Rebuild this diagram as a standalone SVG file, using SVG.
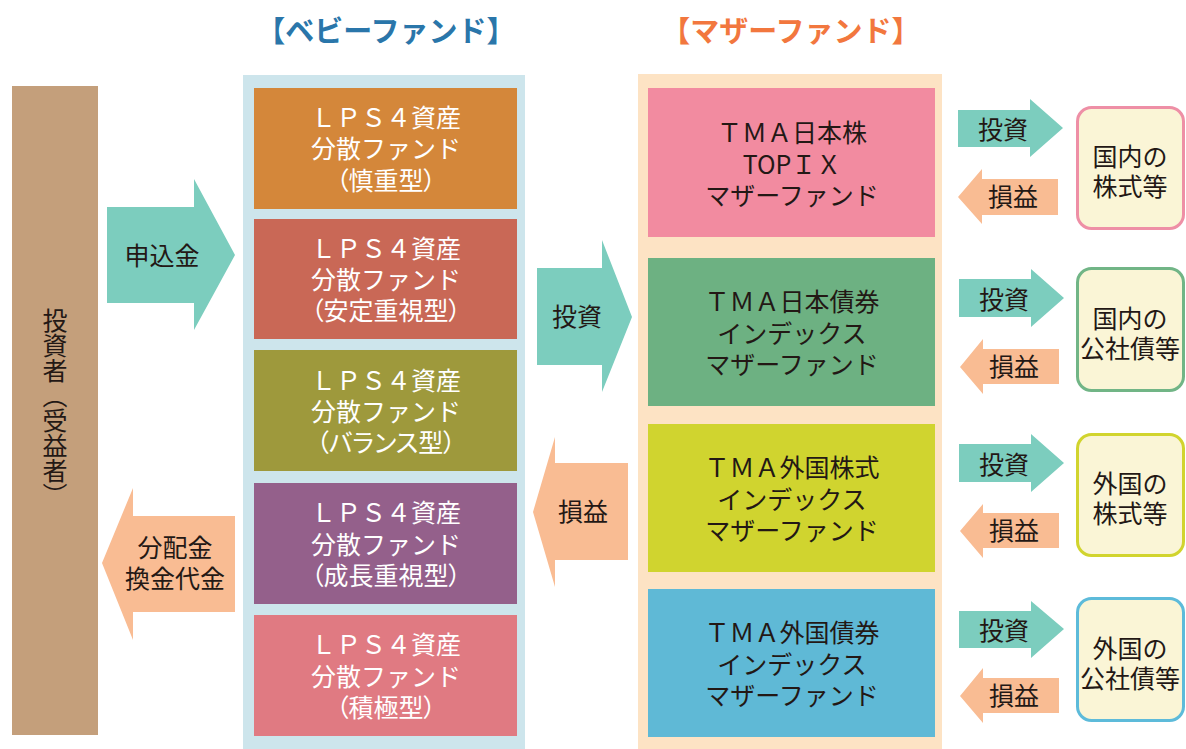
<svg xmlns="http://www.w3.org/2000/svg" width="1186" height="749" viewBox="0 0 1186 749">
<style>
text{font-family:"Noto Sans CJK JP","Noto Sans",sans-serif;font-size:25px;font-weight:400;text-anchor:middle}
.w{fill:#ffffff}
.d{fill:#231815}
.palt{font-feature-settings:"palt"}
.h{font-size:29px;font-weight:bold}
.teal{fill:#7ccdbe}
.sal{fill:#f9bc93}
.rb{fill:#faf5d6;stroke-width:3}
</style>
<rect width="1186" height="749" fill="#ffffff"/>

<text class="h" x="386" y="42" fill="#2a76aa">【ベビーファンド】</text>
<text class="h" x="791" y="42" fill="#f2773e">【マザーファンド】</text>

<g id="investor">
<rect x="12" y="86" width="86" height="649" fill="#c49f7b"/>
<text class="d" x="55" y="408" style="writing-mode:vertical-rl">投資者（受益者）</text>
</g>

<g id="baby-fund">
<rect x="243" y="75" width="282" height="674" fill="#cde5ec"/>
<g id="baby1">
<rect x="254" y="88" width="263" height="121" fill="#d4873a"/>
<text class="w" x="386" y="127">ＬＰＳ４資産<tspan x="386" dy="31">分散ファンド</tspan><tspan class="palt" x="386" dy="32">（慎重型）</tspan></text>
</g>
<g id="baby2">
<rect x="254" y="219" width="263" height="120" fill="#c96856"/>
<text class="w" x="386" y="258">ＬＰＳ４資産<tspan x="386" dy="31">分散ファンド</tspan><tspan class="palt" x="386" dy="31">（安定重視型）</tspan></text>
</g>
<g id="baby3">
<rect x="254" y="350" width="263" height="121" fill="#9e993c"/>
<text class="w" x="386" y="390">ＬＰＳ４資産<tspan x="386" dy="31">分散ファンド</tspan><tspan class="palt" x="386" dy="31">（バランス型）</tspan></text>
</g>
<g id="baby4">
<rect x="254" y="483" width="263" height="121" fill="#94608b"/>
<text class="w" x="386" y="522">ＬＰＳ４資産<tspan x="386" dy="32">分散ファンド</tspan><tspan class="palt" x="386" dy="31">（成長重視型）</tspan></text>
</g>
<g id="baby5">
<rect x="254" y="615" width="263" height="121" fill="#e07a82"/>
<text class="w" x="386" y="654">ＬＰＳ４資産<tspan x="386" dy="32">分散ファンド</tspan><tspan class="palt" x="386" dy="31">（積極型）</tspan></text>
</g>
</g>

<g id="mother-fund">
<rect x="638" y="74" width="304" height="675" fill="#fde3c4"/>
<g id="mother1">
<rect x="648" y="88" width="287" height="149" fill="#f28ba0"/>
<text class="d" x="792" y="142">ＴＭＡ日本株<tspan x="792" dy="32">TOPＩＸ</tspan><tspan x="792" dy="31">マザーファンド</tspan></text>
</g>
<g id="mother2">
<rect x="648" y="258" width="287" height="148" fill="#6db182"/>
<text class="d" x="792" y="311">ＴＭＡ日本債券<tspan x="792" dy="32">インデックス</tspan><tspan x="792" dy="31">マザーファンド</tspan></text>
</g>
<g id="mother3">
<rect x="648" y="424" width="287" height="148" fill="#d0d42f"/>
<text class="d" x="792" y="477">ＴＭＡ外国株式<tspan x="792" dy="32">インデックス</tspan><tspan x="792" dy="31">マザーファンド</tspan></text>
</g>
<g id="mother4">
<rect x="648" y="589" width="287" height="148" fill="#5fb9d6"/>
<text class="d" x="792" y="642">ＴＭＡ外国債券<tspan x="792" dy="32">インデックス</tspan><tspan x="792" dy="31">マザーファンド</tspan></text>
</g>
</g>

<g id="assets">
<g id="asset1">
<rect class="rb" x="1077.5" y="107.5" width="106" height="121" rx="14" stroke="#ee8fa6"/>
<text class="d" x="1130" y="166">国内の<tspan x="1130" dy="30">株式等</tspan></text>
</g>
<g id="asset2">
<rect class="rb" x="1077.5" y="268.5" width="106" height="122" rx="14" stroke="#71b586"/>
<text class="d" x="1130" y="328">国内の<tspan x="1130" dy="30">公社債等</tspan></text>
</g>
<g id="asset3">
<rect class="rb" x="1077.5" y="434.5" width="106" height="121" rx="14" stroke="#d1d42e"/>
<text class="d" x="1130" y="493">外国の<tspan x="1130" dy="30">株式等</tspan></text>
</g>
<g id="asset4">
<rect class="rb" x="1077.5" y="598.5" width="106" height="122" rx="14" stroke="#5dbbda"/>
<text class="d" x="1130" y="658">外国の<tspan x="1130" dy="30">公社債等</tspan></text>
</g>
</g>

<g id="connectors">
<polygon class="teal" points="107,207 194,207 194,179 235,255 194,330 194,303 107,303"/>
<text class="d" x="162" y="265">申込金</text>
<polygon class="sal" points="235,516 133,516 133,488 102,563 133,640 133,612 235,612"/>
<text class="d" x="175" y="557">分配金<tspan x="175" dy="31">換金代金</tspan></text>

<polygon class="teal" points="537,268 602,268 602,240 632,317 602,392 602,365 537,365"/>
<text class="d" x="577" y="326">投資</text>
<polygon class="sal" points="628,463 555,463 555,437 533,512 555,587 555,560 628,560"/>
<text class="d" x="583" y="521">損益</text>

<polygon class="teal" points="958,110 1030,110 1030,99 1063,128 1030,157 1030,147 958,147"/>
<text class="d" x="1003" y="139">投資</text>
<polygon class="sal" points="1058,179 982,179 982,169 958,197 982,224 982,215 1058,215"/>
<text class="d" x="1013" y="206">損益</text>

<polygon class="teal" points="959,279 1031,279 1031,269 1064,298 1031,327 1031,317 959,317"/>
<text class="d" x="1004" y="309">投資</text>
<polygon class="sal" points="1059,349 983,349 983,339 960,367 983,394 983,384 1059,384"/>
<text class="d" x="1014" y="376">損益</text>

<polygon class="teal" points="959,444 1031,444 1031,434 1064,463 1031,492 1031,482 959,482"/>
<text class="d" x="1004" y="474">投資</text>
<polygon class="sal" points="1059,513 983,513 983,504 960,531 983,558 983,548 1059,548"/>
<text class="d" x="1014" y="540">損益</text>

<polygon class="teal" points="959,611 1031,611 1031,601 1064,629 1031,658 1031,648 959,648"/>
<text class="d" x="1004" y="640">投資</text>
<polygon class="sal" points="1059,678 983,678 983,668 960,696 983,723 983,713 1059,713"/>
<text class="d" x="1014" y="705">損益</text>
</g>
</svg>
